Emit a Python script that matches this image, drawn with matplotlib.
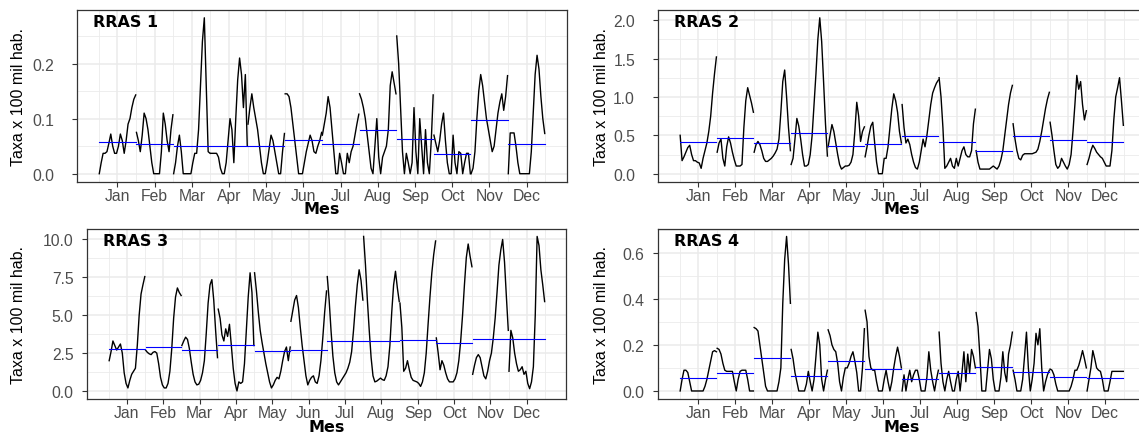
import numpy as np
import matplotlib
matplotlib.use("Agg")
import matplotlib.pyplot as plt
from matplotlib.ticker import MultipleLocator, FormatStrFormatter

plt.rcParams["font.family"] = ["Liberation Sans", "DejaVu Sans"]

months = ["Jan", "Feb", "Mar", "Apr", "May", "Jun",
          "Jul", "Aug", "Sep", "Oct", "Nov", "Dec"]

# one list per month (Jan..Dec)
rras1_values = [
    [0.0, 0.02, 0.037, 0.037, 0.04, 0.055, 0.072, 0.05, 0.037, 0.037, 0.05, 0.072, 0.06, 0.037, 0.06, 0.09, 0.1, 0.12, 0.135, 0.143],
    [0.075, 0.06, 0.04, 0.07, 0.11, 0.1, 0.08, 0.05, 0.02, 0.0, 0.0, 0.0, 0.0, 0.04, 0.11, 0.09, 0.06, 0.04, 0.08, 0.107],
    [0.0, 0.02, 0.05, 0.07, 0.04, 0.0, 0.0, 0.0, 0.0, 0.0, 0.02, 0.037, 0.037, 0.08, 0.16, 0.24, 0.283, 0.16, 0.04, 0.037],
    [0.037, 0.037, 0.037, 0.037, 0.03, 0.01, 0.0, 0.0, 0.02, 0.06, 0.1, 0.08, 0.02, 0.1, 0.17, 0.21, 0.18, 0.12, 0.18, 0.05],
    [0.09, 0.12, 0.145, 0.12, 0.1, 0.08, 0.05, 0.02, 0.0, 0.0, 0.02, 0.045, 0.07, 0.06, 0.04, 0.02, 0.0, 0.0, 0.04, 0.073],
    [0.145, 0.145, 0.14, 0.12, 0.09, 0.06, 0.03, 0.0, 0.0, 0.0, 0.02, 0.04, 0.055, 0.07, 0.06, 0.04, 0.037, 0.05, 0.06, 0.075],
    [0.07, 0.09, 0.11, 0.14, 0.12, 0.08, 0.04, 0.0, 0.0, 0.037, 0.02, 0.0, 0.0, 0.037, 0.02, 0.04, 0.05, 0.07, 0.09, 0.108],
    [0.145, 0.135, 0.12, 0.1, 0.07, 0.04, 0.01, 0.0, 0.05, 0.1, 0.03, 0.0, 0.03, 0.04, 0.05, 0.08, 0.16, 0.185, 0.165, 0.145],
    [0.25, 0.2, 0.12, 0.04, 0.0, 0.037, 0.02, 0.0, 0.02, 0.12, 0.04, 0.0, 0.1, 0.05, 0.0, 0.08, 0.02, 0.0, 0.06, 0.143],
    [0.07, 0.055, 0.04, 0.06, 0.09, 0.11, 0.06, 0.02, 0.0, 0.0, 0.07, 0.02, 0.0, 0.04, 0.037, 0.0, 0.02, 0.037, 0.037, 0.0],
    [0.0, 0.01, 0.04, 0.1, 0.15, 0.18, 0.16, 0.13, 0.1, 0.08, 0.06, 0.04, 0.05, 0.08, 0.11, 0.13, 0.145, 0.115, 0.14, 0.178],
    [0.0, 0.074, 0.074, 0.074, 0.05, 0.02, 0.0, 0.0, 0.0, 0.0, 0.0, 0.0, 0.04, 0.11, 0.18, 0.215, 0.19, 0.14, 0.1, 0.073],
]
rras1_means = [0.058, 0.054, 0.051, 0.051, 0.051, 0.061, 0.054, 0.079, 0.063, 0.036, 0.098, 0.054]

rras2_values = [
    [0.5, 0.17, 0.22, 0.28, 0.34, 0.37, 0.25, 0.17, 0.17, 0.15, 0.14, 0.07, 0.2, 0.3, 0.4, 0.55, 0.75, 1.05, 1.3, 1.52],
    [0.28, 0.4, 0.45, 0.2, 0.1, 0.35, 0.48, 0.4, 0.28, 0.18, 0.1, 0.1, 0.1, 0.12, 0.6, 0.95, 1.12, 1.02, 0.92, 0.8],
    [0.28, 0.38, 0.42, 0.38, 0.3, 0.2, 0.16, 0.16, 0.18, 0.2, 0.23, 0.27, 0.32, 0.45, 0.8, 1.2, 1.35, 1.0, 0.6, 0.3],
    [0.12, 0.2, 0.45, 0.72, 0.62, 0.45, 0.25, 0.1, 0.1, 0.12, 0.25, 0.5, 0.9, 1.3, 1.75, 2.03, 1.72, 1.2, 0.65, 0.23],
    [0.35, 0.5, 0.64, 0.55, 0.4, 0.25, 0.12, 0.06, 0.08, 0.1, 0.1, 0.11, 0.15, 0.25, 0.55, 0.93, 0.75, 0.42, 0.55, 0.61],
    [0.22, 0.35, 0.5, 0.62, 0.67, 0.4, 0.15, 0.0, 0.0, 0.0, 0.2, 0.2, 0.35, 0.6, 0.85, 1.04, 0.95, 0.8, 0.55, 0.4],
    [0.9, 0.6, 0.4, 0.45, 0.38, 0.25, 0.15, 0.08, 0.06, 0.15, 0.3, 0.45, 0.35, 0.5, 0.7, 0.9, 1.05, 1.12, 1.18, 1.22],
    [1.25, 1.0, 0.6, 0.07, 0.1, 0.15, 0.2, 0.1, 0.07, 0.2, 0.1, 0.2, 0.3, 0.35, 0.25, 0.22, 0.22, 0.3, 0.65, 0.84],
    [0.3, 0.15, 0.06, 0.06, 0.06, 0.06, 0.06, 0.06, 0.08, 0.1, 0.08, 0.06, 0.1, 0.18, 0.3, 0.5, 0.7, 0.9, 1.05, 1.15],
    [0.65, 0.45, 0.3, 0.2, 0.18, 0.24, 0.26, 0.26, 0.26, 0.26, 0.26, 0.27, 0.28, 0.32, 0.42, 0.55, 0.7, 0.85, 0.97, 1.06],
    [0.67, 0.5, 0.3, 0.12, 0.07, 0.1, 0.2, 0.15, 0.1, 0.06, 0.12, 0.25, 0.55, 0.9, 1.28, 1.1, 1.2, 0.9, 0.7, 0.82],
    [0.12, 0.2, 0.3, 0.37, 0.33, 0.28, 0.25, 0.22, 0.2, 0.15, 0.1, 0.1, 0.1, 0.3, 0.7, 1.0, 1.12, 1.25, 0.95, 0.63],
]
rras2_means = [0.41, 0.47, 0.40, 0.53, 0.365, 0.39, 0.49, 0.415, 0.29, 0.49, 0.44, 0.415]

rras3_values = [
    [2.0, 2.6, 3.3, 3.0, 2.7, 2.9, 3.1, 2.5, 1.2, 0.5, 0.2, 0.7, 1.1, 1.3, 1.5, 3.0, 5.0, 6.4, 7.0, 7.55],
    [2.7, 2.55, 2.45, 2.4, 2.55, 2.6, 2.5, 1.8, 0.9, 0.4, 0.2, 0.2, 0.5, 1.3, 2.8, 4.8, 6.2, 6.8, 6.5, 6.3],
    [3.0, 3.3, 3.55, 3.4, 2.8, 1.9, 1.1, 0.6, 0.4, 0.45, 0.7, 1.2, 2.0, 3.8, 5.8, 7.0, 7.35, 6.0, 4.0, 2.2],
    [5.4, 4.8, 3.7, 3.3, 4.1, 3.6, 4.4, 3.0, 1.5, 0.5, 0.0, 0.6, 0.5, 0.6, 1.8, 4.0, 6.2, 7.8, 6.5, 3.0],
    [7.8, 6.6, 5.2, 4.0, 3.2, 2.5, 1.8, 1.2, 0.6, 0.2, 0.4, 0.7, 0.9, 0.8, 1.3, 2.0, 2.6, 2.9, 2.0, 2.9],
    [4.6, 5.3, 6.0, 6.3, 5.5, 4.2, 3.0, 2.0, 1.0, 0.4, 0.7, 0.9, 1.0, 0.6, 0.5, 1.0, 2.0, 3.5, 5.2, 6.6],
    [7.55, 6.0, 4.0, 2.3, 1.2, 0.6, 0.4, 0.6, 0.8, 1.0, 1.2, 1.5, 1.9, 2.6, 4.0, 5.6, 7.0, 8.0, 7.3, 6.0],
    [10.2, 8.3, 6.0, 4.0, 2.2, 1.0, 0.6, 0.65, 0.75, 0.85, 0.75, 0.7, 1.0, 1.6, 3.0, 5.2, 7.0, 7.9, 6.8, 5.9],
    [5.8, 4.2, 1.3, 1.5, 2.0, 1.4, 0.9, 0.7, 0.65, 0.6, 0.5, 0.3, 0.6, 1.2, 2.5, 4.4, 6.2, 7.8, 9.0, 9.9],
    [3.5, 2.5, 1.4, 2.0, 1.7, 1.2, 0.8, 0.6, 0.6, 0.6, 0.8, 1.2, 2.0, 3.3, 5.0, 7.0, 8.8, 9.7, 8.9, 8.2],
    [1.1, 1.7, 2.2, 2.4, 2.2, 1.6, 1.0, 0.8, 1.3, 2.0, 2.5, 3.5, 4.8, 6.5, 8.3, 9.3, 10.0, 8.5, 6.2, 4.0],
    [1.3, 4.0, 3.5, 2.5, 1.8, 1.3, 1.4, 1.6, 1.1, 1.3, 0.5, 0.15, 0.6, 1.6, 5.0, 10.2, 9.6, 8.0, 7.0, 5.9],
]
rras3_means = [2.8, 2.9, 2.72, 3.02, 2.62, 2.72, 3.3, 3.3, 3.36, 3.18, 3.44, 3.4]

rras4_values = [
    [0.0, 0.05, 0.09, 0.09, 0.08, 0.04, 0.0, 0.0, 0.0, 0.0, 0.0, 0.0, 0.0, 0.02, 0.05, 0.09, 0.13, 0.17, 0.175, 0.17],
    [0.185, 0.18, 0.16, 0.12, 0.09, 0.085, 0.085, 0.085, 0.085, 0.04, 0.0, 0.05, 0.085, 0.09, 0.09, 0.09, 0.05, 0.0, 0.0, 0.0],
    [0.275, 0.27, 0.26, 0.2, 0.14, 0.08, 0.02, 0.0, 0.0, 0.0, 0.0, 0.0, 0.0, 0.04, 0.1, 0.38, 0.57, 0.67, 0.55, 0.38],
    [0.18, 0.14, 0.08, 0.04, 0.0, 0.0, 0.0, 0.0, 0.03, 0.085, 0.04, 0.0, 0.05, 0.15, 0.255, 0.2, 0.05, 0.0, 0.05, 0.09],
    [0.265, 0.24, 0.2, 0.18, 0.17, 0.12, 0.04, 0.0, 0.06, 0.1, 0.1, 0.12, 0.15, 0.17, 0.13, 0.08, 0.0, 0.0, 0.1, 0.27],
    [0.35, 0.3, 0.15, 0.1, 0.09, 0.09, 0.04, 0.0, 0.0, 0.0, 0.05, 0.09, 0.04, 0.0, 0.04, 0.1, 0.15, 0.19, 0.15, 0.1],
    [0.0, 0.07, 0.0, 0.05, 0.09, 0.04, 0.07, 0.09, 0.09, 0.05, 0.0, 0.0, 0.0, 0.06, 0.17, 0.09, 0.04, 0.0, 0.05, 0.09],
    [0.255, 0.12, 0.04, 0.0, 0.05, 0.085, 0.04, 0.0, 0.0, 0.05, 0.085, 0.0, 0.08, 0.17, 0.04, 0.16, 0.08, 0.18, 0.15, 0.1],
    [0.34, 0.28, 0.15, 0.0, 0.0, 0.0, 0.09, 0.18, 0.14, 0.05, 0.0, 0.0, 0.0, 0.06, 0.17, 0.08, 0.04, 0.16, 0.2, 0.255],
    [0.09, 0.05, 0.0, 0.0, 0.0, 0.05, 0.15, 0.255, 0.1, 0.0, 0.05, 0.12, 0.25, 0.2, 0.27, 0.1, 0.0, 0.04, 0.07, 0.09],
    [0.095, 0.09, 0.07, 0.03, 0.0, 0.0, 0.0, 0.0, 0.0, 0.0, 0.0, 0.02, 0.05, 0.09, 0.09, 0.11, 0.14, 0.175, 0.14, 0.1],
    [0.0, 0.05, 0.1, 0.175, 0.14, 0.1, 0.09, 0.085, 0.05, 0.0, 0.0, 0.0, 0.04, 0.085, 0.085, 0.085, 0.085, 0.085, 0.085, 0.085],
]
rras4_means = [0.057, 0.077, 0.145, 0.067, 0.13, 0.096, 0.051, 0.078, 0.104, 0.083, 0.061, 0.057]

W, H = 1139, 435


def month_plot(ax, values, means, title, ystep, yfmt, ypad):
    for m, vals in enumerate(values, start=1):
        xs = m - 0.49 + 0.98 * np.arange(len(vals)) / (len(vals) - 1)
        ax.plot(xs, vals, color="black", lw=1.0, zorder=3)
        ax.plot([xs[0], xs[-1]], [means[m - 1], means[m - 1]], color="#0000FF", lw=0.8, zorder=4)

    ax.set_xticks(range(1, 13))
    ax.set_xticklabels(months)
    ax.xaxis.set_minor_locator(MultipleLocator(1, offset=0.5))
    ax.yaxis.set_major_locator(MultipleLocator(ystep))
    ax.yaxis.set_minor_locator(MultipleLocator(ystep / 2))
    ax.yaxis.set_major_formatter(FormatStrFormatter(yfmt))

    ax.grid(which="major", color="#EBEBEB", lw=1.1)
    ax.grid(which="minor", color="#EBEBEB", lw=0.6)
    ax.set_axisbelow(True)
    ax.tick_params(which="major", length=3.5, width=0.8, color="#333333",
                   labelcolor="#4D4D4D", labelsize=11.3)
    ax.tick_params(axis="x", which="major", pad=1.2)
    ax.tick_params(axis="y", which="major", pad=ypad)
    ax.tick_params(which="minor", length=0)
    for s in ax.spines.values():
        s.set_color("#333333")
        s.set_linewidth(0.9)

    ax.text(0.033, 0.975, title, transform=ax.transAxes, ha="left", va="top",
            fontsize=11.5, fontweight="bold", color="black", zorder=5,
            family="DejaVu Sans")


def add_axes(fig, left, right, top, bottom):
    return fig.add_axes([left / W, 1 - bottom / H, (right - left) / W, (bottom - top) / H])


def main():
    fig = plt.figure(figsize=(W / 100, H / 100), dpi=100)

    panels = [
        (add_axes(fig, 77, 567, 11, 182.5), rras1_values, rras1_means, "RRAS 1", 0.1, 13, 19, 210),
        (add_axes(fig, 658, 1145.5, 11, 182.5), rras2_values, rras2_means, "RRAS 2", 0.5, 13, 601, 210),
        (add_axes(fig, 87.4, 566.4, 229.7, 399.7), rras3_values, rras3_means, "RRAS 3", 2.5, 6.5, 19, 428),
        (add_axes(fig, 658, 1145.5, 229.7, 399.7), rras4_values, rras4_means, "RRAS 4", 0.2, 6.5, 601, 428),
    ]

    for ax, vals, means, title, ystep, ypad, ylab_x, xlab_y in panels:
        month_plot(ax, vals, means, title, ystep, "%.1f", ypad)
        pos = ax.get_position()
        # axis titles placed in figure coordinates
        ax.set_ylabel("Taxa x 100 mil hab.", fontsize=11.5, color="black")
        ax.yaxis.set_label_coords(ylab_x / W, pos.y0 + pos.height / 2, transform=fig.transFigure)
        ax.set_xlabel("Mes", fontsize=11.5, fontweight="bold", color="black", family="DejaVu Sans")
        ax.xaxis.set_label_coords(pos.x0 + pos.width / 2, 1 - xlab_y / H, transform=fig.transFigure)
        ax.xaxis.label.set_va("center")
        ax.yaxis.label.set_va("center")

    fig.savefig("out.png", dpi=100)


if __name__ == "__main__":
    main()
